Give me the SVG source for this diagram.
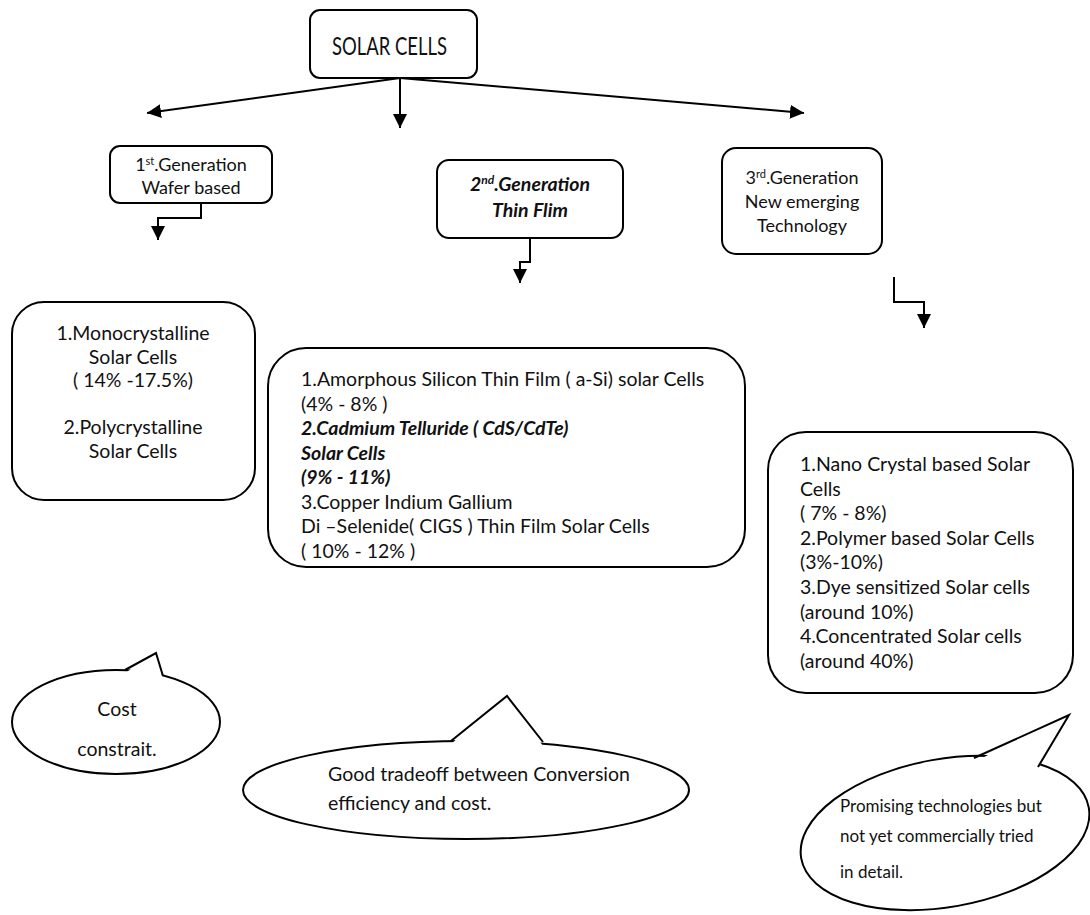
<svg xmlns="http://www.w3.org/2000/svg" width="1090" height="915" viewBox="0 0 1090 915">
<defs>
<style>
text{font-family:Lato,"Liberation Sans",sans-serif;font-size:19.5px;fill:#111}
.box{fill:#fff;stroke:#000;stroke-width:2}
.c{text-anchor:middle}
.s{font-size:18px}
.bi{font-weight:bold;font-style:italic}
.ln{fill:none;stroke:#000;stroke-width:2}
.bub{fill:#fff;stroke:#000;stroke-width:2}
.sm{font-size:17px}
</style>
<marker id="ah" viewBox="0 0 14 14" refX="14" refY="7" markerWidth="14" markerHeight="14" orient="auto" markerUnits="userSpaceOnUse"><path d="M0,0 L14,7 L0,14 z" fill="#000"/></marker>
</defs>
<rect width="1090" height="915" fill="#fff"/>

<g id="connectors">
<path class="ln" d="M400,78 L147,113" marker-end="url(#ah)"/>
<path class="ln" d="M400,78 L400,128" marker-end="url(#ah)"/>
<path class="ln" d="M400,78 L804,113" marker-end="url(#ah)"/>
<path class="ln" d="M201,203 V218 H158 V240" marker-end="url(#ah)"/>
<path class="ln" d="M530,238 V262 H520 V283" marker-end="url(#ah)"/>
<path class="ln" d="M894,277 V302 H924 V328" marker-end="url(#ah)"/>
</g>

<g id="solar-cells">
<rect class="box" x="310" y="10" width="167" height="68" rx="10"/>
<text x="332" y="55" style="font-size:25px" textLength="115" lengthAdjust="spacingAndGlyphs">SOLAR CELLS</text>
</g>

<g id="gen1">
<rect class="box" x="110" y="146" width="162" height="57" rx="10"/>
<text class="c s" x="191" y="171">1<tspan font-size="11" dy="-6">st</tspan><tspan dy="6">.Generation</tspan></text>
<text class="c s" x="191" y="194">Wafer based</text>
</g>

<g id="gen2">
<rect class="box" x="437" y="160" width="186" height="78" rx="12"/>
<text class="c bi" x="530" y="191">2<tspan font-size="12" dy="-7">nd</tspan><tspan dy="7">.Generation</tspan></text>
<text class="c bi" x="530" y="217">Thin Flim</text>
</g>

<g id="gen3">
<rect class="box" x="722" y="148" width="160" height="106" rx="14"/>
<text class="c s" x="802" y="184">3<tspan font-size="11" dy="-6">rd</tspan><tspan dy="6">.Generation</tspan></text>
<text class="c s" x="802" y="208">New emerging</text>
<text class="c s" x="802" y="232">Technology</text>
</g>

<g id="wafer-list">
<rect class="box" x="12" y="302" width="243" height="198" rx="32"/>
<text class="c" x="133" y="340">1.Monocrystalline</text>
<text class="c" x="133" y="363.5">Solar Cells</text>
<text class="c" x="133" y="387">( 14% -17.5%)</text>
<text class="c" x="133" y="434">2.Polycrystalline</text>
<text class="c" x="133" y="457.5">Solar Cells</text>
</g>

<g id="thinfilm-list">
<rect class="box" x="268" y="348" width="477" height="219" rx="38"/>
<text x="301" y="386">1.Amorphous Silicon Thin Film ( a-Si) solar Cells</text>
<text x="301" y="410.5">(4% - 8% )</text>
<text class="bi" x="301" y="435">2.Cadmium Telluride ( CdS/CdTe)</text>
<text class="bi" x="301" y="459.5">Solar Cells</text>
<text class="bi" x="301" y="484">(9% - 11%)</text>
<text x="301" y="508.5">3.Copper Indium Gallium</text>
<text x="301" y="533">Di –Selenide( CIGS ) Thin Film Solar Cells</text>
<text x="301" y="557.5">( 10% - 12% )</text>
</g>

<g id="emerging-list">
<rect class="box" x="768" y="432" width="305" height="261" rx="38"/>
<text x="800" y="471">1.Nano Crystal based Solar</text>
<text x="800" y="495.6">Cells</text>
<text x="800" y="520.2">( 7% - 8%)</text>
<text x="800" y="544.8">2.Polymer based Solar Cells</text>
<text x="800" y="569.4">(3%-10%)</text>
<text x="800" y="594">3.Dye sensitized Solar cells</text>
<text x="800" y="618.6">(around 10%)</text>
<text x="800" y="643.2">4.Concentrated Solar cells</text>
<text x="800" y="667.8">(around 40%)</text>
</g>

<g id="callout-cost">
<ellipse class="bub" cx="116" cy="722" rx="104" ry="52"/>
<polygon points="125,673 156,653 163,679" fill="#fff"/>
<polyline class="ln" points="125,670 156,653 163,676"/>
<text class="c" x="117" y="716">Cost</text>
<text class="c" x="117" y="756">constrait.</text>
</g>

<g id="callout-tradeoff">
<ellipse class="bub" cx="466" cy="790" rx="223" ry="49"/>
<polygon points="451,744 507,696 543,746" fill="#fff"/>
<polyline class="ln" points="451,741 507,696 543,742"/>
<text x="328" y="781">Good tradeoff between Conversion</text>
<text x="328" y="810">efficiency and cost.</text>
</g>

<g id="callout-promising">
<ellipse class="bub" cx="945" cy="833" rx="146" ry="74" transform="rotate(-10 945 833)"/>
<polygon points="974,762 1069,715 1036,772" fill="#fff"/>
<polyline class="ln" points="974,758 1069,715 1038,767"/>
<text class="sm" x="840" y="812">Promising technologies but</text>
<text class="sm" x="840" y="842">not yet commercially tried</text>
<text class="sm" x="840" y="878">in detail.</text>
</g>
</svg>
